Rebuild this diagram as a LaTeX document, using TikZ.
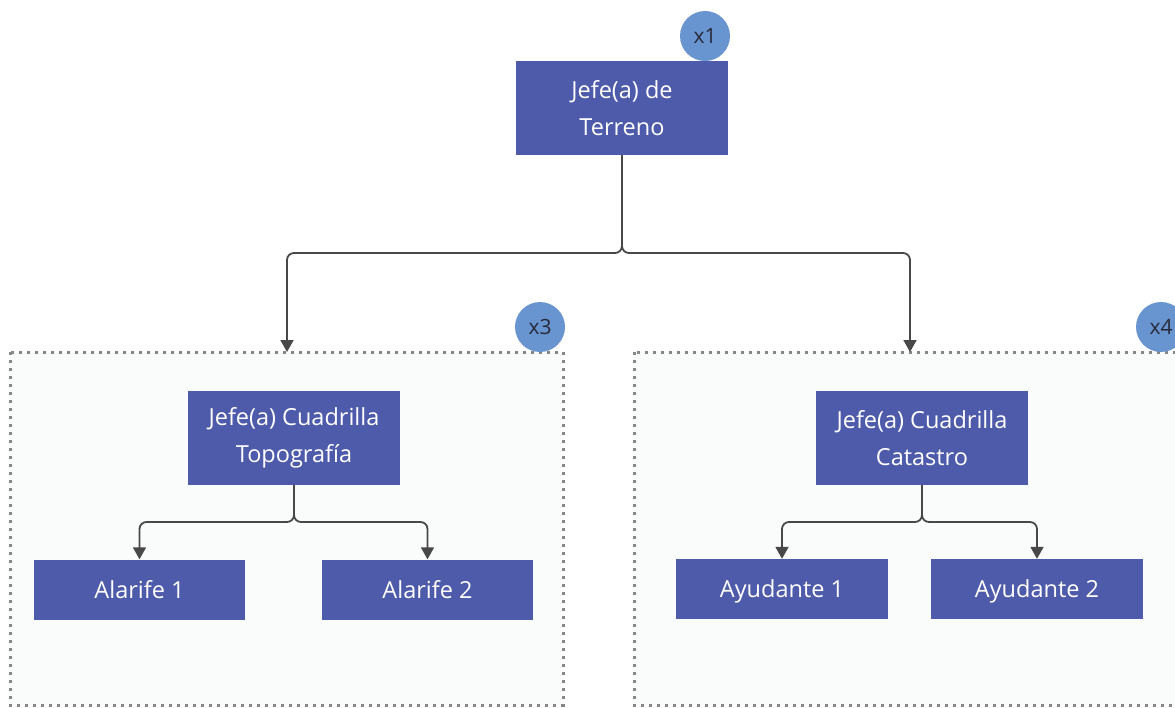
\documentclass[tikz,border=0pt]{standalone}
\usepackage{fontspec}
\setmainfont{Open Sans}
\usetikzlibrary{arrows.meta}
\definecolor{nodeblue}{RGB}{78,91,170}
\definecolor{badgeblue}{RGB}{104,148,208}
\definecolor{badgetext}{RGB}{40,42,58}
\definecolor{linegray}{RGB}{72,72,72}
\definecolor{dotgray}{RGB}{135,135,135}
\definecolor{boxfill}{RGB}{250,251,251}
\tikzset{
  rolebox/.style={rectangle, fill=nodeblue, text=white, align=center, inner sep=0pt,
    minimum width=212pt, font=\fontsize{23.5}{37}\selectfont},
  tallbox/.style={rolebox, minimum height=94pt},
  shortbox/.style={rolebox, minimum height=60pt, text height=21pt, text depth=4pt},
  badge/.style={circle, fill=badgeblue, text=badgetext, minimum size=50pt, inner sep=0pt,
    font=\fontsize{21}{24}\selectfont},
  groupbox/.style={draw=dotgray, fill=boxfill, line width=3pt, dash pattern=on 3pt off 5pt},
  link/.style={draw=linegray, line width=1.8pt, rounded corners=7pt},
  arrowlink/.style={link, -{Triangle[length=12pt,width=13pt]}}
}
\begin{document}
\begin{tikzpicture}[x=1pt,y=-1pt]
\clip (0,0) rectangle (1175,707);
\fill[white] (0,0) rectangle (1175,707);
% group boxes
\path[groupbox] (10,352) rectangle (563,705);
\path[groupbox] (634,352) rectangle (1200,705);
\coordinate (gl) at (287,352);
\coordinate (gr) at (910,352);
% nodes
\node[tallbox] (top) at (622,108) {Jefe(a) de\\Terreno};
\node[badge] (b1) at (705,36) {x1};
\node[badge] (b3) at (540,327) {x3};
\node[badge] (b4) at (1161,327) {x4};
\node[tallbox] (topo) at (294,438) {Jefe(a) Cuadrilla\\Topografía};
\node[tallbox] (cat) at (922,438) {Jefe(a) Cuadrilla\\Catastro};
\node[shortbox, minimum width=211pt] (a1) at (139.5,589.5) {Alarife 1};
\node[shortbox, minimum width=211pt] (a2) at (427.5,589.5) {Alarife 2};
\node[shortbox] (y1) at (782,589) {Ayudante 1};
\node[shortbox] (y2) at (1037,589) {Ayudante 2};
% connectors
\draw[arrowlink] (top.south) -- (622,253) -- (gl |- 0,253) -- (gl);
\draw[arrowlink] (top.south) -- (622,253) -- (gr |- 0,253) -- (gr);
\draw[arrowlink] (topo.south) -- (294,522) -- (a1.north |- 0,522) -- (a1.north);
\draw[arrowlink] (topo.south) -- (294,522) -- (a2.north |- 0,522) -- (a2.north);
\draw[arrowlink] (cat.south) -- (922,522) -- (y1.north |- 0,522) -- (y1.north);
\draw[arrowlink] (cat.south) -- (922,522) -- (y2.north |- 0,522) -- (y2.north);
\end{tikzpicture}
\end{document}
